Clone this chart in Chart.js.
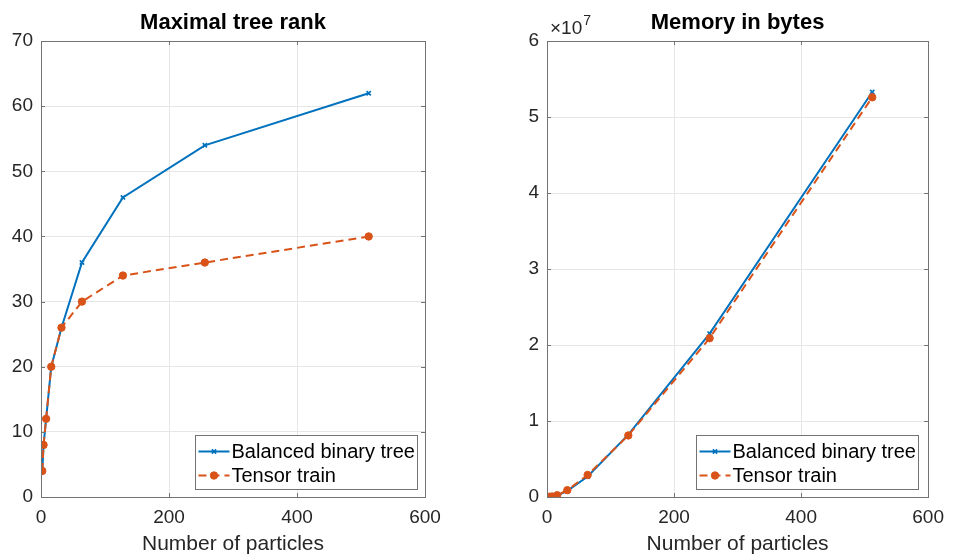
<!DOCTYPE html>
<html>
<head>
<meta charset="utf-8">
<script src="https://cdn.jsdelivr.net/npm/chart.js@4.4.1/dist/chart.umd.min.js"></script>
<style>
  html, body { margin: 0; padding: 0; background: #fff; }
  #wrap { position: relative; width: 953px; height: 557px; }
  canvas { position: absolute; top: 0; }
  #rank { left: 0; }
  #memory { left: 476px; }
</style>
</head>
<body>
<div id="wrap">
  <canvas id="rank" width="476" height="557"></canvas>
  <canvas id="memory" width="477" height="557"></canvas>
</div>
<script>
// number of particles on the x axis
const particles = [2, 4, 8, 16, 32, 64, 128, 256, 512];

// maximal rank per format
const rankBinary = [4, 8, 12, 20, 26, 36, 46, 54, 62];
const rankTrain = [4, 8, 12, 20, 26, 30, 34, 36, 40];

// memory in bytes per format
const memBinary = [3e3, 1.5e4, 6e4, 2e5, 8e5, 2.7e6, 8.2e6, 2.15e7, 5.33e7];
const memTrain = [4e3, 2e4, 7e4, 2.3e5, 9e5, 2.9e6, 8.1e6, 2.09e7, 5.26e7];

const xTicks = [0, 200, 400, 600];
const rankTicks = [0, 10, 20, 30, 40, 50, 60, 70];
const memTicks = [0, 1e7, 2e7, 3e7, 4e7, 5e7, 6e7];

const labelBinary = 'Balanced binary tree';
const labelTrain = 'Tensor train';

const FONT = "'Liberation Sans', Arial, Helvetica, sans-serif";
const BLUE = '#0072BD';
const ORANGE = '#D95319';
const AXIS = '#737373';
const TEXT = '#262626';

Chart.defaults.font.family = FONT;
Chart.defaults.color = TEXT;

// axes box, inward ticks, legend in the lower right corner, exponent label
const matlabAxes = {
    id: 'matlabAxes',
    afterDatasetsDraw(chart, args, opts) {
        const ctx = chart.ctx;
        const ca = chart.chartArea;
        const xs = chart.scales.x, ys = chart.scales.y;
        ctx.save();
        ctx.strokeStyle = AXIS;
        ctx.lineWidth = 1;
        ctx.strokeRect(Math.round(ca.left) + 0.5, Math.round(ca.top) + 0.5,
            Math.round(ca.right - ca.left), Math.round(ca.bottom - ca.top));
        // inward ticks
        ctx.beginPath();
        xs.ticks.forEach(t => {
            const px = Math.round(xs.getPixelForValue(t.value)) + 0.5;
            ctx.moveTo(px, ca.bottom); ctx.lineTo(px, ca.bottom - 4);
            ctx.moveTo(px, ca.top); ctx.lineTo(px, ca.top + 4);
        });
        ys.ticks.forEach(t => {
            const py = Math.round(ys.getPixelForValue(t.value)) + 0.5;
            ctx.moveTo(ca.left, py); ctx.lineTo(ca.left + 4, py);
            ctx.moveTo(ca.right, py); ctx.lineTo(ca.right - 4, py);
        });
        ctx.stroke();

        // legend
        const w = 222, h = 54;
        const left = Math.round(ca.right - opts.legendRight - w) + 0.5;
        const top = Math.round(ca.bottom - 8 - h) + 0.5;
        ctx.fillStyle = '#fff';
        ctx.fillRect(left, top, w, h);
        ctx.strokeStyle = AXIS;
        ctx.strokeRect(left, top, w, h);
        chart.data.datasets.forEach((ds, i) => {
            const y = top + 16 + i * 24;
            ctx.save();
            ctx.strokeStyle = ds.borderColor;
            ctx.lineWidth = ds.borderWidth;
            ctx.setLineDash(ds.borderDash || []);
            ctx.beginPath();
            ctx.moveTo(left + 3, y);
            ctx.lineTo(left + 34, y);
            ctx.stroke();
            ctx.setLineDash([]);
            ctx.fillStyle = ds.pointBackgroundColor;
            ctx.strokeStyle = ds.pointBorderColor;
            ctx.lineWidth = ds.pointBorderWidth;
            Chart.helpers.drawPoint(ctx, {
                pointStyle: ds.pointStyle, radius: ds.pointRadius,
                borderWidth: ds.pointBorderWidth, rotation: 0
            }, left + 18.5, y);
            ctx.restore();
            ctx.fillStyle = '#000';
            ctx.font = '20px ' + FONT;
            ctx.textBaseline = 'middle';
            ctx.textAlign = 'left';
            ctx.fillText(ds.label, left + 36, y + 1);
        });

        // x10^7 exponent above the y axis
        if (opts.exponent) {
            ctx.fillStyle = TEXT;
            ctx.textBaseline = 'alphabetic';
            ctx.textAlign = 'left';
            ctx.font = '19px ' + FONT;
            const base = ca.top - 7;
            ctx.fillText('\u00d710', ca.left + 3, base);
            const wx = ctx.measureText('\u00d710').width;
            ctx.font = '14px ' + FONT;
            ctx.fillText(opts.exponent, ca.left + 3 + wx + 1, base - 9);
        }
        ctx.restore();
    }
};

function series(label, values, color, train) {
    return {
        label: label,
        data: particles.map((p, i) => ({ x: p, y: values[i] })),
        borderColor: color,
        backgroundColor: color,
        borderWidth: 2,
        borderDash: train ? [8, 5] : [],
        pointStyle: train ? 'circle' : 'crossRot',
        pointRadius: train ? 3.7 : 3,
        pointBackgroundColor: color,
        pointBorderColor: color,
        pointBorderWidth: train ? 1 : 1.7,
        tension: 0,
        order: train ? 0 : 1
    };
}

function tickSetter(values) {
    return scale => { scale.ticks = values.map(v => ({ value: v })); };
}

function makeChart(id, title, binary, train, yMax, yTicks, yWidth, padRight, extra) {
    return new Chart(document.getElementById(id), {
        type: 'line',
        data: {
            datasets: [
                series(labelBinary, binary, BLUE, false),
                series(labelTrain, train, ORANGE, true)
            ]
        },
        options: {
            responsive: false,
            animation: false,
            devicePixelRatio: 1,
            layout: { padding: { left: 0, right: padRight, top: 0, bottom: 0 } },
            plugins: {
                legend: { display: false },
                tooltip: { enabled: false },
                title: {
                    display: true,
                    fullSize: false,
                    text: title,
                    color: '#000',
                    font: { size: 22, weight: 'bold', lineHeight: 1.14 },
                    padding: { top: 10, bottom: 6 }
                },
                matlabAxes: extra
            },
            scales: {
                x: {
                    type: 'linear',
                    min: 0,
                    max: 600,
                    afterBuildTicks: tickSetter(xTicks),
                    afterFit: s => { s.height = 60; },
                    grid: { color: '#e6e6e6', drawTicks: false },
                    border: { display: false },
                    ticks: { padding: 9, font: { size: 19 }, maxRotation: 0 },
                    title: {
                        display: true,
                        text: 'Number of particles',
                        font: { size: 21 },
                        padding: { top: 0, bottom: 0 }
                    }
                },
                y: {
                    min: 0,
                    max: yMax,
                    afterBuildTicks: tickSetter(yTicks),
                    afterFit: s => { s.width = yWidth; },
                    grid: { color: '#e6e6e6', drawTicks: false },
                    border: { display: false },
                    ticks: {
                        padding: 8,
                        font: { size: 19 },
                        callback: v => (yMax > 1000 ? v / 1e7 : v)
                    }
                }
            }
        },
        plugins: [matlabAxes]
    });
}

makeChart('rank', 'Maximal tree rank', rankBinary, rankTrain, 70, rankTicks, 41, 51,
    { legendRight: 8 });
makeChart('memory', 'Memory in bytes', memBinary, memTrain, 6e7, memTicks, 71, 20,
    { legendRight: 10, exponent: '7' });
</script>
</body>
</html>
